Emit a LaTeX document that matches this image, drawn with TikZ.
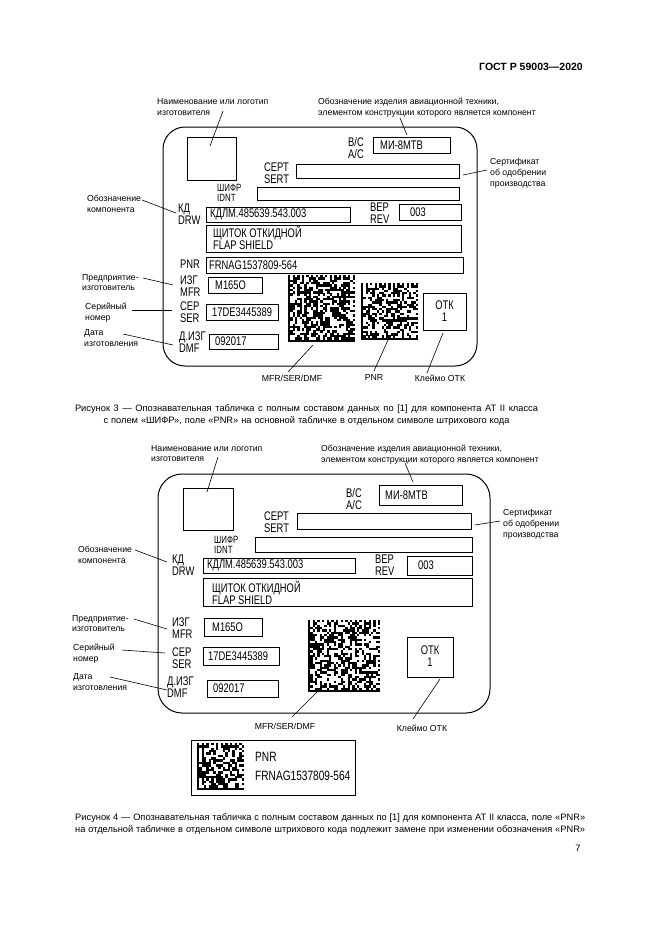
\documentclass[tikz,border=0pt]{standalone}
\usepackage{fontspec}
\setmainfont{Liberation Sans}
\newfontfamily\nar[FakeStretch=0.75]{Liberation Sans}
\newcommand\dmx[5]{%
  \pgfmathsetseed{#5}%
  \pgfmathtruncatemacro\dmN{#3-1}%
  \foreach \i in {0,...,\dmN}{%
    \foreach \j in {0,...,\dmN}{%
      \pgfmathrandominteger{\dmr}{0}{99}%
      \pgfmathtruncatemacro\dmb{(\i==0) || (\j==\dmN) || ((\j==0) && (mod(\i,2)==0)) || ((\i==\dmN) && (mod(\j,2)==1)) || ((\i>0) && (\j>0) && (\i<\dmN) && (\j<\dmN) && (\dmr<52))}%
      \ifnum\dmb=1 \fill (#1+\i*#4,#2+\j*#4) rectangle ++(#4+0.08,#4+0.08);\fi
    }%
  }%
}
\newcommand\fieldbox[5]{\node[fbox, minimum width={#4-#2}, minimum height={#5-#3}] (#1) at (#2,#3) {};}
\tikzset{
  lbl/.style={font=\fontsize{8.7}{10.8}\selectfont, inner sep=0pt, align=left, anchor=west},
  plab/.style={font=\nar\fontsize{12.5}{12}\selectfont, inner sep=0pt, align=left, anchor=west},
  slab/.style={font=\nar\fontsize{10.5}{10}\selectfont, inner sep=0pt, align=left, anchor=west},
  ftxt/.style={font=\nar\fontsize{12.5}{12}\selectfont, inner sep=0pt, align=left, anchor=west},
  fbox/.style={draw, line width=0.9pt, anchor=north west, inner sep=0pt},
  plate/.style={draw, line width=1pt},
  lead/.style={draw, line width=0.6pt},
  captxt/.style={font=\fontsize{9.3}{12}\selectfont, inner sep=0pt, align=center},
}
\begin{document}
\begin{tikzpicture}[x=1pt,y=-1pt]
\useasboundingbox[fill=white] (0,0) rectangle (661,935);
% header
\node[font=\bfseries\fontsize{10.5}{12}\selectfont, anchor=east, inner sep=0pt] (hdr) at (583,67) {ГОСТ Р 59003—2020};

% ================= FIGURE 3 =================
\draw[plate, rounded corners=22pt] (163,127) rectangle (477,366);
\fieldbox{logo1}{187}{137}{236}{180}
\node[lbl] (tlogo1) at (157,107) {Наименование или логотип\\изготовителя};
\coordinate (a1) at (223,111); \coordinate (b1) at (210,146);
\draw[lead] (a1) -- (b1);
\node[lbl] (tac1) at (318,107.5) {Обозначение изделия авиационной техники,\\элементом конструкции которого является компонент};
\coordinate (a2) at (400,118); \coordinate (b2) at (407,135);
\draw[lead] (a2) -- (b2);
\node[plab, align=right, anchor=east] (bc1) at (364,148) {В/С\\А/С};
\fieldbox{ac1}{373}{137}{450}{153}
\node[ftxt] (vac1) at (380,145) {МИ-8МТВ};
\node[plab] (sert1) at (264,173) {СЕРТ\\SERT};
\fieldbox{sbox1}{296}{164}{459}{178}
\coordinate (a3) at (463,175); \coordinate (b3) at (487,170);
\draw[lead] (a3) -- (b3);
\node[lbl] (tcert1) at (490,173.5) {Сертификат\\об одобрении\\производства};
\node[slab] (idnt1) at (217,193) {ШИФР\\IDNT};
\fieldbox{ibox1}{257}{187}{459}{200}
\node[plab] (drw1) at (178,214) {КД\\DRW};
\fieldbox{dbox1}{206}{207}{350}{222}
\node[ftxt] (vdrw1) at (210,214.5) {КДЛМ.485639.543.003};
\node[lbl] (tdrw1) at (87,203.5) {Обозначение\\компонента};
\coordinate (a4) at (142,200); \coordinate (b4) at (176,213);
\draw[lead] (a4) -- (b4);
\node[plab] (rev1) at (370,213) {ВЕР\\REV};
\fieldbox{rbox1}{399}{204}{461}{220}
\node[ftxt] (vrev1) at (410,212) {003};
\fieldbox{nbox1}{206}{225}{461}{252}
\node[ftxt] (vname1) at (213,238) {ЩИТОК ОТКИДНОЙ\\FLAP SHIELD};
\node[plab] (pnr1) at (180,264.5) {PNR};
\fieldbox{pbox1}{206}{257}{463}{273}
\node[ftxt] (vpnr1) at (209,265) {FRNAG1537809-564};
\node[plab] (mfr1) at (180,286) {ИЗГ\\MFR};
\fieldbox{mbox1}{208}{277}{262}{293}
\node[ftxt] (vmfr1) at (215,285) {М165О};
\node[lbl] (tmfr1) at (82,282.5) {Предприятие-\\изготовитель};
\coordinate (a5) at (143,278); \coordinate (b5) at (173,285);
\draw[lead] (a5) -- (b5);
\node[plab] (ser1) at (180,312.5) {СЕР\\SER};
\fieldbox{sebox1}{206}{304}{278}{320}
\node[ftxt] (vser1) at (212,312) {17DE3445389};
\node[lbl] (tser1) at (85,313) {Серийный\\номер};
\coordinate (a6) at (132,310); \coordinate (b6) at (172,310);
\draw[lead] (a6) -- (b6);
\node[plab] (dmf1) at (179,342.5) {Д.ИЗГ\\DMF};
\fieldbox{dmbox1}{209}{334}{278}{349}
\node[ftxt] (vdmf1) at (215,341.5) {092017};
\node[lbl] (tdmf1) at (84,338) {Дата\\изготовления};
\coordinate (a7) at (123,334); \coordinate (b7) at (173,345);
\draw[lead] (a7) -- (b7);
% data matrices
\dmx{288}{275}{29}{2.31}{11}
\dmx{361}{283}{25}{2.28}{27}
\node[fbox, minimum width=43, minimum height=37] (otk1) at (423,293) {};
\node[ftxt, align=center, anchor=center] (votk1) at (444.5,311) {ОТК\\1};
\coordinate (a8) at (313,345); \coordinate (b8) at (288,372);
\draw[lead] (a8) -- (b8);
\coordinate (a9) at (388,340); \coordinate (b9) at (374,371);
\draw[lead] (a9) -- (b9);
\coordinate (a10) at (443,333); \coordinate (b10) at (427,373);
\draw[lead] (a10) -- (b10);
\node[lbl, anchor=center] (tmsd1) at (292,378) {MFR/SER/DMF};
\node[lbl, anchor=center] (tpnr1) at (374,378) {PNR};
\node[lbl, anchor=center] (totk1) at (440,378) {Клеймо ОТК};
\node[captxt] (cap1) at (306.5,415) {\makebox[463pt][s]{Рисунок 3 — Опознавательная табличка с полным составом данных по [1] для компонента АТ II класса}\\\makebox[406pt][s]{с полем «ШИФР», поле «PNR» на основной табличке в отдельном символе штрихового кода}};

% ================= FIGURE 4 =================
\draw[plate, rounded corners=24pt] (158,474) rectangle (490,713);
\fieldbox{logo2}{183}{488}{233}{530}
\node[lbl] (tlogo2) at (151,453.5) {Наименование или логотип\\изготовителя};
\coordinate (c1) at (218,457); \coordinate (d1) at (207,492);
\draw[lead] (c1) -- (d1);
\node[lbl] (tac2) at (321,455) {Обозначение изделия авиационной техники,\\элементом конструкции которого является компонент};
\coordinate (c2) at (405,463); \coordinate (d2) at (413,482);
\draw[lead] (c2) -- (d2);
\node[plab, align=right, anchor=east] (bc2) at (362,499) {В/С\\А/С};
\fieldbox{ac2}{379}{485}{462}{505}
\node[ftxt] (vac2) at (385,495) {МИ-8МТВ};
\node[plab] (sert2) at (264,522.5) {СЕРТ\\SERT};
\fieldbox{sbox2}{297}{513}{471}{529}
\coordinate (c3) at (475,525); \coordinate (d3) at (500,521);
\draw[lead] (c3) -- (d3);
\node[lbl] (tcert2) at (503,524) {Сертификат\\об одобрении\\производства};
\node[slab] (idnt2) at (214,544.5) {ШИФР\\IDNT};
\fieldbox{ibox2}{255}{537}{472}{552}
\node[plab] (drw2) at (172,565.5) {КД\\DRW};
\fieldbox{dbox2}{203}{558}{355}{573}
\node[ftxt] (vdrw2) at (207,565.5) {КДЛМ.485639.543.003};
\node[lbl] (tdrw2) at (78,555) {Обозначение\\компонента};
\coordinate (c4) at (135,550); \coordinate (d4) at (167,562);
\draw[lead] (c4) -- (d4);
\node[plab] (rev2) at (375,565) {ВЕР\\REV};
\fieldbox{rbox2}{407}{556}{472}{575}
\node[ftxt] (vrev2) at (418,565.5) {003};
\fieldbox{nbox2}{203}{578}{472}{606}
\node[ftxt] (vname2) at (212,592.5) {ЩИТОК ОТКИДНОЙ\\FLAP SHIELD};
\node[plab] (mfr2) at (172,628) {ИЗГ\\MFR};
\fieldbox{mbox2}{204}{618}{262}{636}
\node[ftxt] (vmfr2) at (212,627) {М165О};
\node[lbl] (tmfr2) at (72,623.5) {Предприятие-\\изготовитель};
\coordinate (c5) at (134,619); \coordinate (d5) at (167,629);
\draw[lead] (c5) -- (d5);
\node[plab] (ser2) at (172,658.5) {СЕР\\SER};
\fieldbox{sebox2}{203}{647}{279}{665}
\node[ftxt] (vser2) at (208,656) {17DE3445389};
\node[lbl] (tser2) at (73,653.5) {Серийный\\номер};
\coordinate (c6) at (122,650); \coordinate (d6) at (165,653);
\draw[lead] (c6) -- (d6);
\node[plab] (dmf2) at (167,687) {Д.ИЗГ\\DMF};
\fieldbox{dmbox2}{207}{680}{278}{697}
\node[ftxt] (vdmf2) at (213,688.5) {092017};
\node[lbl] (tdmf2) at (73,682) {Дата\\изготовления};
\coordinate (c7) at (110,677); \coordinate (d7) at (167,690);
\draw[lead] (c7) -- (d7);
\dmx{308}{620}{31}{2.33}{53}
\node[fbox, minimum width=46, minimum height=40] (otk2) at (407,637) {};
\node[ftxt, align=center, anchor=center] (votk2) at (430,656.5) {ОТК\\1};
\coordinate (c8) at (317,692); \coordinate (d8) at (292,717);
\draw[lead] (c8) -- (d8);
\coordinate (c9) at (440,679); \coordinate (d9) at (413,719);
\draw[lead] (c9) -- (d9);
\node[lbl, anchor=center] (tmsd2) at (285,726) {MFR/SER/DMF};
\node[lbl, anchor=center] (totk2) at (422,728) {Клеймо ОТК};
% separate PNR tag
\fieldbox{tag}{191}{740}{355}{795}
\dmx{197}{743}{20}{2.35}{71}
\node[ftxt, font=\nar\fontsize{13.5}{12}\selectfont] (tpnrl) at (255,757) {PNR};
\node[ftxt, font=\nar\fontsize{13.5}{12}\selectfont] (tpnrv) at (255,776) {FRNAG1537809-564};
\node[captxt, align=left, anchor=west] (cap2) at (75,824) {\makebox[510pt][s]{Рисунок 4 — Опознавательная табличка с полным составом данных по [1] для компонента АТ II класса, поле «PNR»}\\\makebox[510pt][s]{на отдельной табличке в отдельном символе штрихового кода подлежит замене при изменении обозначения «PNR»}};
\node[captxt] (pg) at (578,848) {7};
\end{tikzpicture}
\end{document}
